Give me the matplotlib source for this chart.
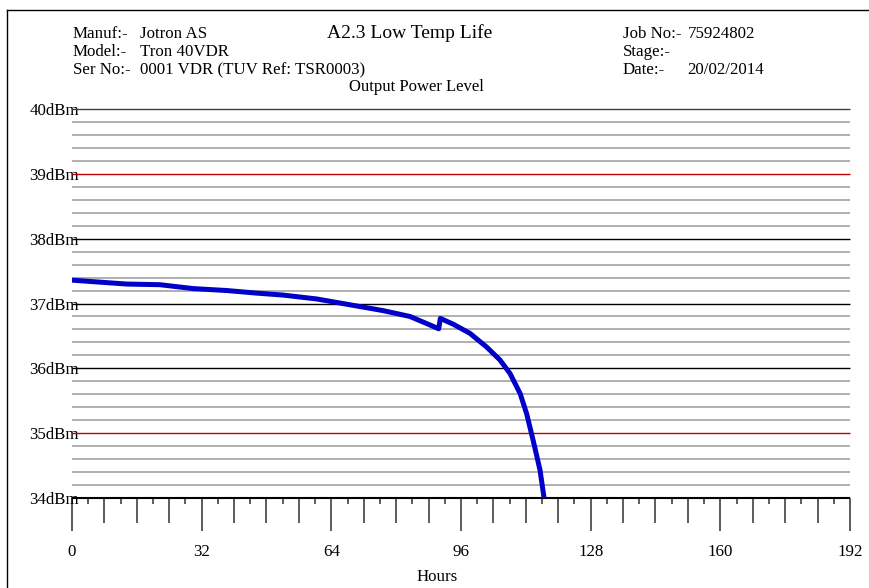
import numpy as np
import matplotlib
matplotlib.use('Agg')
import matplotlib.pyplot as plt
from matplotlib.lines import Line2D

plt.rcParams['font.family'] = ['Liberation Serif', 'DejaVu Serif']

# ----------------------------------------------------------------
# data
# ----------------------------------------------------------------
hours = [0, 13.5, 21.7, 29.9, 38.2, 45.6, 52.1, 60.4, 68.6, 76.8, 83.4, 88.3,
         90.5, 90.9, 94.1, 98.2, 102.3, 105.6, 108.1, 110.6, 112.2, 113.8,
         115.5, 116.5]
power = [37.36, 37.30, 37.29, 37.23, 37.20, 37.16, 37.13, 37.07, 36.98, 36.89,
         36.80, 36.67, 36.61, 36.77, 36.68, 36.54, 36.33, 36.13, 35.92, 35.61,
         35.30, 34.89, 34.43, 34.0]

y_major = [34, 35, 36, 37, 38, 39, 40]
y_major_colors = ['black', '#c00000', 'black', 'black', 'black', '#c00000', '#404040']
y_labels = [f'{v}dBm' for v in y_major]
x_major = [0, 32, 64, 96, 128, 160, 192]

header_left = [('Manuf:-', 'Jotron AS'),
               ('Model:-', 'Tron 40VDR'),
               ('Ser No:-', '0001 VDR (TUV Ref: TSR0003)')]
header_right = [('Job No:-', '75924802', 688),
                ('Stage:-', '', 688),
                ('Date:-', '20/02/2014', 687)]

W, H = 869, 588
fs = 12.2
fig = plt.figure(figsize=(W / 100, H / 100), dpi=100)

def fx(px):
    return px / W

def fy(py):
    return 1 - py / H

# page frame (left and top edges visible)
fig.add_artist(Line2D([fx(7), fx(7)], [fy(10), 0], color='black', lw=1.0))
fig.add_artist(Line2D([fx(7), 1], [fy(10), fy(10)], color='black', lw=1.0))

ax = fig.add_axes([fx(72), 90 / H, 778 / W, 389 / H])
ax.set_xlim(0, 192)
ax.set_ylim(34, 40)
for s in ax.spines.values():
    s.set_visible(False)

# minor grid every 0.2 dBm
minor = [round(34 + 0.2 * i, 1) for i in range(31) if (i % 5) != 0]
ax.hlines(minor, 0, 192, colors='#9a9a9a', lw=1.1, zorder=1)
for v, c in zip(y_major, y_major_colors):
    lw = 1.5 if v == 34 else 1.0
    ax.hlines(v, 0, 192, colors=c, lw=lw, zorder=2, clip_on=False)

ax.plot(hours, power, color='#0000c8', lw=3.6, solid_joinstyle='round',
        solid_capstyle='butt', zorder=3)

# y labels
ax.set_yticks(y_major)
ax.set_yticklabels(y_labels, fontsize=fs)
ax.tick_params(axis='y', length=0, pad=-5)

# x ticks: long every 32, medium every 8
ax.set_xticks(x_major)
ax.set_xticklabels([str(v) for v in x_major], fontsize=fs)
ax.set_xticks(np.arange(8, 192, 8), minor=True)
ax.tick_params(axis='x', which='major', direction='out', length=24, width=1.1,
               color='#303030', pad=9)
ax.tick_params(axis='x', which='minor', direction='out', length=18, width=1.1,
               color='#303030')
# short ticks every 4 hours
sec = ax.secondary_xaxis('bottom')
sec.set_xticks(np.arange(4, 192, 8))
sec.set_xticklabels([])
sec.tick_params(direction='out', length=4.5, width=1.1, color='#303030')
sec.spines['bottom'].set_visible(False)

# header texts
fig.text(fx(410), fy(38.5), 'A2.3 Low Temp Life', fontsize=14, ha='center', va='baseline')
fig.text(fx(416), fy(91), 'Output Power Level', fontsize=12, ha='center', va='baseline')
for i, (k, v) in enumerate(header_left):
    base = 38 + 18 * i
    fig.text(fx(73), fy(base), k, fontsize=fs, va='baseline')
    fig.text(fx(140), fy(base), v, fontsize=fs, va='baseline')
for i, (k, v, xv) in enumerate(header_right):
    base = 38 + 18 * i
    fig.text(fx(623), fy(base), k, fontsize=fs, va='baseline')
    if v:
        fig.text(fx(xv), fy(base), v, fontsize=fs, va='baseline')

fig.text(fx(437), fy(581), 'Hours', fontsize=fs, ha='center', va='baseline')

fig.savefig('out.png', dpi=100)
